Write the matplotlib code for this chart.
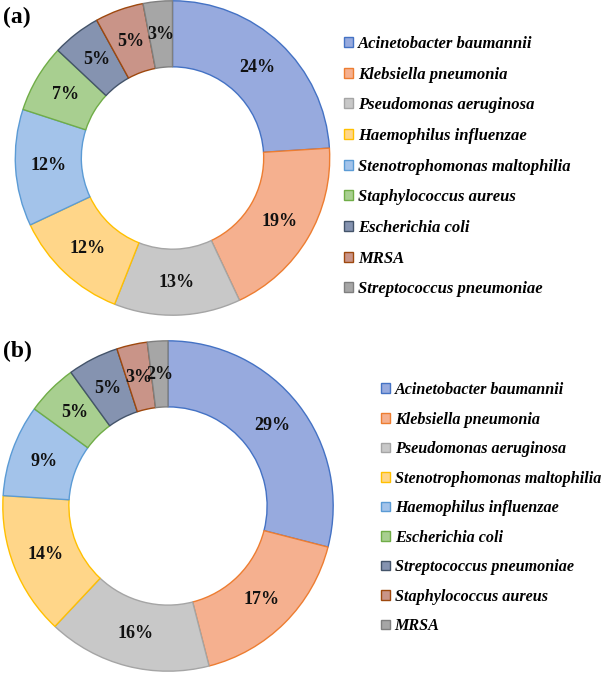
import matplotlib
matplotlib.use("Agg")
import matplotlib.pyplot as plt

W, H = 608, 675
DPI = 100

labels_a = ["Acinetobacter baumannii", "Klebsiella pneumonia", "Pseudomonas aeruginosa",
            "Haemophilus influenzae", "Stenotrophomonas maltophilia", "Staphylococcus aureus",
            "Escherichia coli", "MRSA", "Streptococcus pneumoniae"]
values_a = [24, 19, 13, 12, 12, 7, 5, 5, 3]

labels_b = ["Acinetobacter baumannii", "Klebsiella pneumonia", "Pseudomonas aeruginosa",
            "Stenotrophomonas maltophilia", "Haemophilus influenzae", "Escherichia coli",
            "Streptococcus pneumoniae", "Staphylococcus aureus", "MRSA"]
values_b = [29, 17, 16, 14, 9, 5, 5, 3, 2]

fills = ["#97AADE", "#F5B08F", "#C8C8C8", "#FFD689", "#A3C3EA", "#A8CF90",
         "#8593B0", "#C99488", "#A6A6A6"]
edges = ["#4472C4", "#ED7D31", "#A5A5A5", "#FFC000", "#5B9BD5", "#70AD47",
         "#44546A", "#9E480E", "#7F7F7F"]

fig = plt.figure(figsize=(W / DPI, H / DPI), dpi=DPI)

serif = ["Liberation Serif", "DejaVu Serif"]


def donut(cx, cy, r, hole, values, labels, tag, tag_y, leg_x, leg_y, spacing, lsize):
    ax = fig.add_axes([(cx - r) / W, (H - cy - r) / H, 2 * r / W, 2 * r / H])
    wedges, texts, autotexts = ax.pie(
        values, colors=fills, startangle=90, counterclock=False,
        autopct=lambda p: f"{p:.0f}%", pctdistance=(1 + hole) / 2,
        wedgeprops=dict(width=1 - hole, linewidth=1.0),
        textprops=dict(family=serif, weight="bold", fontsize=13, color="#111111"))
    for w, ec in zip(wedges, edges):
        w.set_edgecolor(ec)
    ax.set_xlim(-1.005, 1.005)
    ax.set_ylim(-1.005, 1.005)
    fig.text(3 / W, 1 - tag_y / H, tag, family=serif, weight="bold", fontsize=17,
             ha="left", va="center")
    fig.legend(wedges, labels, loc="upper left",
               bbox_to_anchor=(leg_x / W, 1 - leg_y / H),
               frameon=False, borderpad=0, borderaxespad=0,
               handlelength=0.55, handleheight=0.55, handletextpad=0.3,
               labelspacing=spacing,
               prop=dict(family=serif, weight="bold", style="italic", size=lsize))


donut(172.5, 158, 158, 0.58, values_a, labels_a, "(a)", 17, 344, 36, 0.88, 12)
donut(168, 506, 166, 0.60, values_b, labels_b, "(b)", 351, 381, 382, 0.84, 11.6)

fig.savefig("out.png", dpi=DPI)
